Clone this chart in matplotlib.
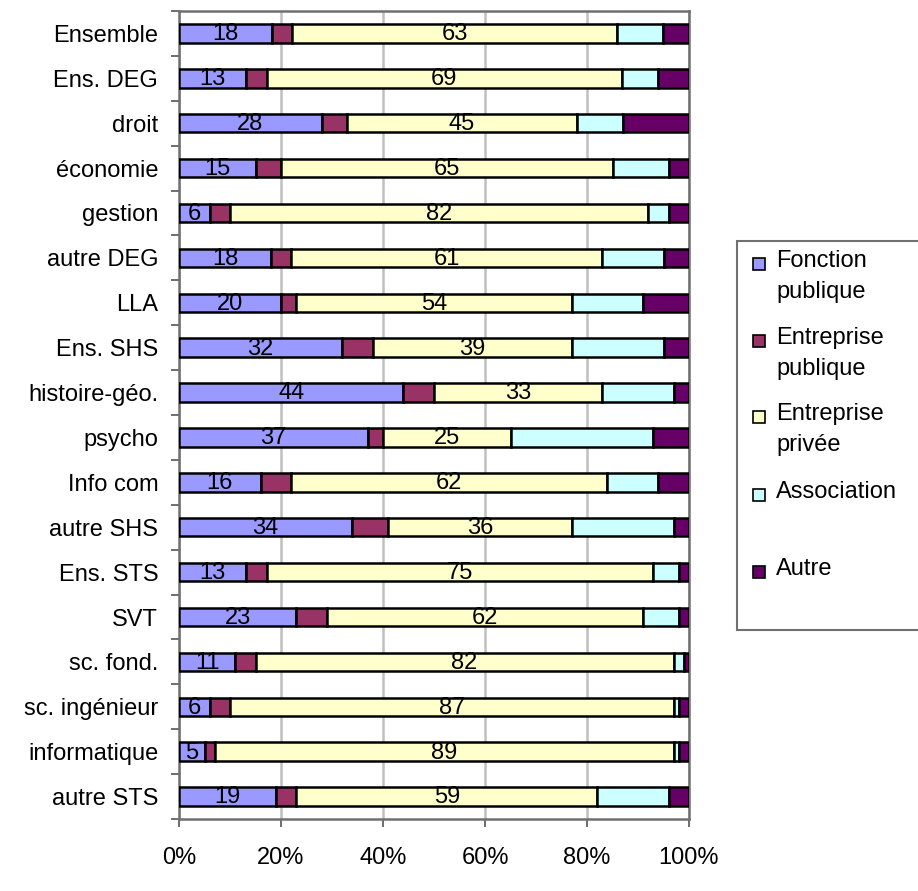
import matplotlib
matplotlib.use("Agg")
import matplotlib.pyplot as plt
from matplotlib.patches import Rectangle
import numpy as np

plt.rcParams['font.family'] = ['Liberation Sans', 'DejaVu Sans']

categories = ["Ensemble", "Ens. DEG", "droit", "économie", "gestion", "autre DEG",
              "LLA", "Ens. SHS", "histoire-géo.", "psycho", "Info com", "autre SHS",
              "Ens. STS", "SVT", "sc. fond.", "sc. ingénieur", "informatique", "autre STS"]

series_names = ["Fonction publique", "Entreprise publique", "Entreprise privée",
                "Association", "Autre"]

fonction_publique   = [18, 13, 28, 15, 6, 18, 20, 32, 44, 37, 16, 34, 13, 23, 11, 6, 5, 19]
entreprise_publique = [4, 4, 5, 5, 4, 4, 3, 6, 6, 3, 6, 7, 4, 6, 4, 4, 2, 4]
entreprise_privee   = [63, 69, 45, 65, 82, 61, 54, 39, 33, 25, 62, 36, 75, 62, 82, 87, 89, 59]
association         = [9, 7, 9, 11, 4, 12, 14, 18, 14, 28, 10, 20, 5, 7, 2, 1, 1, 14]
autre               = [5, 6, 13, 4, 4, 5, 9, 5, 3, 7, 6, 3, 2, 2, 1, 2, 2, 4]

colors = ["#9999FF", "#993366", "#FFFFCC", "#CCFFFF", "#660066"]
labelled = [True, False, True, False, False]

data = np.array([fonction_publique, entreprise_publique, entreprise_privee,
                 association, autre], dtype=float)
pct = data / data.sum(axis=0) * 100

fig = plt.figure(figsize=(9.18, 8.91), dpi=100)
ax = fig.add_axes([179/918, 1 - 819/891, (689-179)/918, (819-11)/891])

y = np.arange(len(categories))
left = np.zeros(len(categories))
FS = 17
for i in range(len(series_names)):
    bars = ax.barh(y, pct[i], left=left, height=0.41, color=colors[i],
                   edgecolor="black", linewidth=1.8, zorder=3)
    if labelled[i]:
        for j, b in enumerate(bars):
            ax.text(left[j] + pct[i][j] / 2, y[j] + 0.02, f"{data[i][j]:.0f}",
                    ha="center", va="center", fontsize=FS, zorder=4)
    left += pct[i]

ax.set_xlim(0, 100)
ax.set_ylim(len(categories) - 0.5, -0.5)
ax.set_xticks(np.arange(0, 101, 20))
ax.set_xticklabels([f"{v}%" for v in range(0, 101, 20)], fontsize=FS)
ax.set_yticks(y)
ax.set_yticklabels(categories, fontsize=FS)
ax.set_yticks(np.arange(-0.5, len(categories), 1), minor=True)
ax.tick_params(axis="y", which="major", length=0, pad=15)
ax.tick_params(axis="y", which="minor", length=6, color="#555555", width=1.2)
ax.tick_params(axis="x", length=6, color="#555555", width=1.2, pad=14)
ax.xaxis.grid(True, color="#C0C0C0", linewidth=1.8, zorder=0)
ax.set_axisbelow(True)
for s in ax.spines.values():
    s.set_color("#707070")
    s.set_linewidth(1.8)

# legend box
fig.patches.append(Rectangle((737/918, 1 - 630/891), (930-737)/918, (630-241)/891,
                             transform=fig.transFigure, facecolor="white",
                             edgecolor="#707070", linewidth=1.5))
entry_y = [264, 341, 417, 495, 572]
for name, c, ey in zip(series_names, colors, entry_y):
    fig.patches.append(Rectangle((753/918, 1 - (ey + 6)/891), 12/918, 12/891,
                                 transform=fig.transFigure, facecolor=c,
                                 edgecolor="black", linewidth=1.2))
    lines = name.split(" ", 1)
    for k, line in enumerate(lines):
        fig.text(776/918, 1 - (ey - 3 + 31*k)/891, line, fontsize=FS,
                 ha="left", va="center")

fig.savefig("out.png", dpi=100)
